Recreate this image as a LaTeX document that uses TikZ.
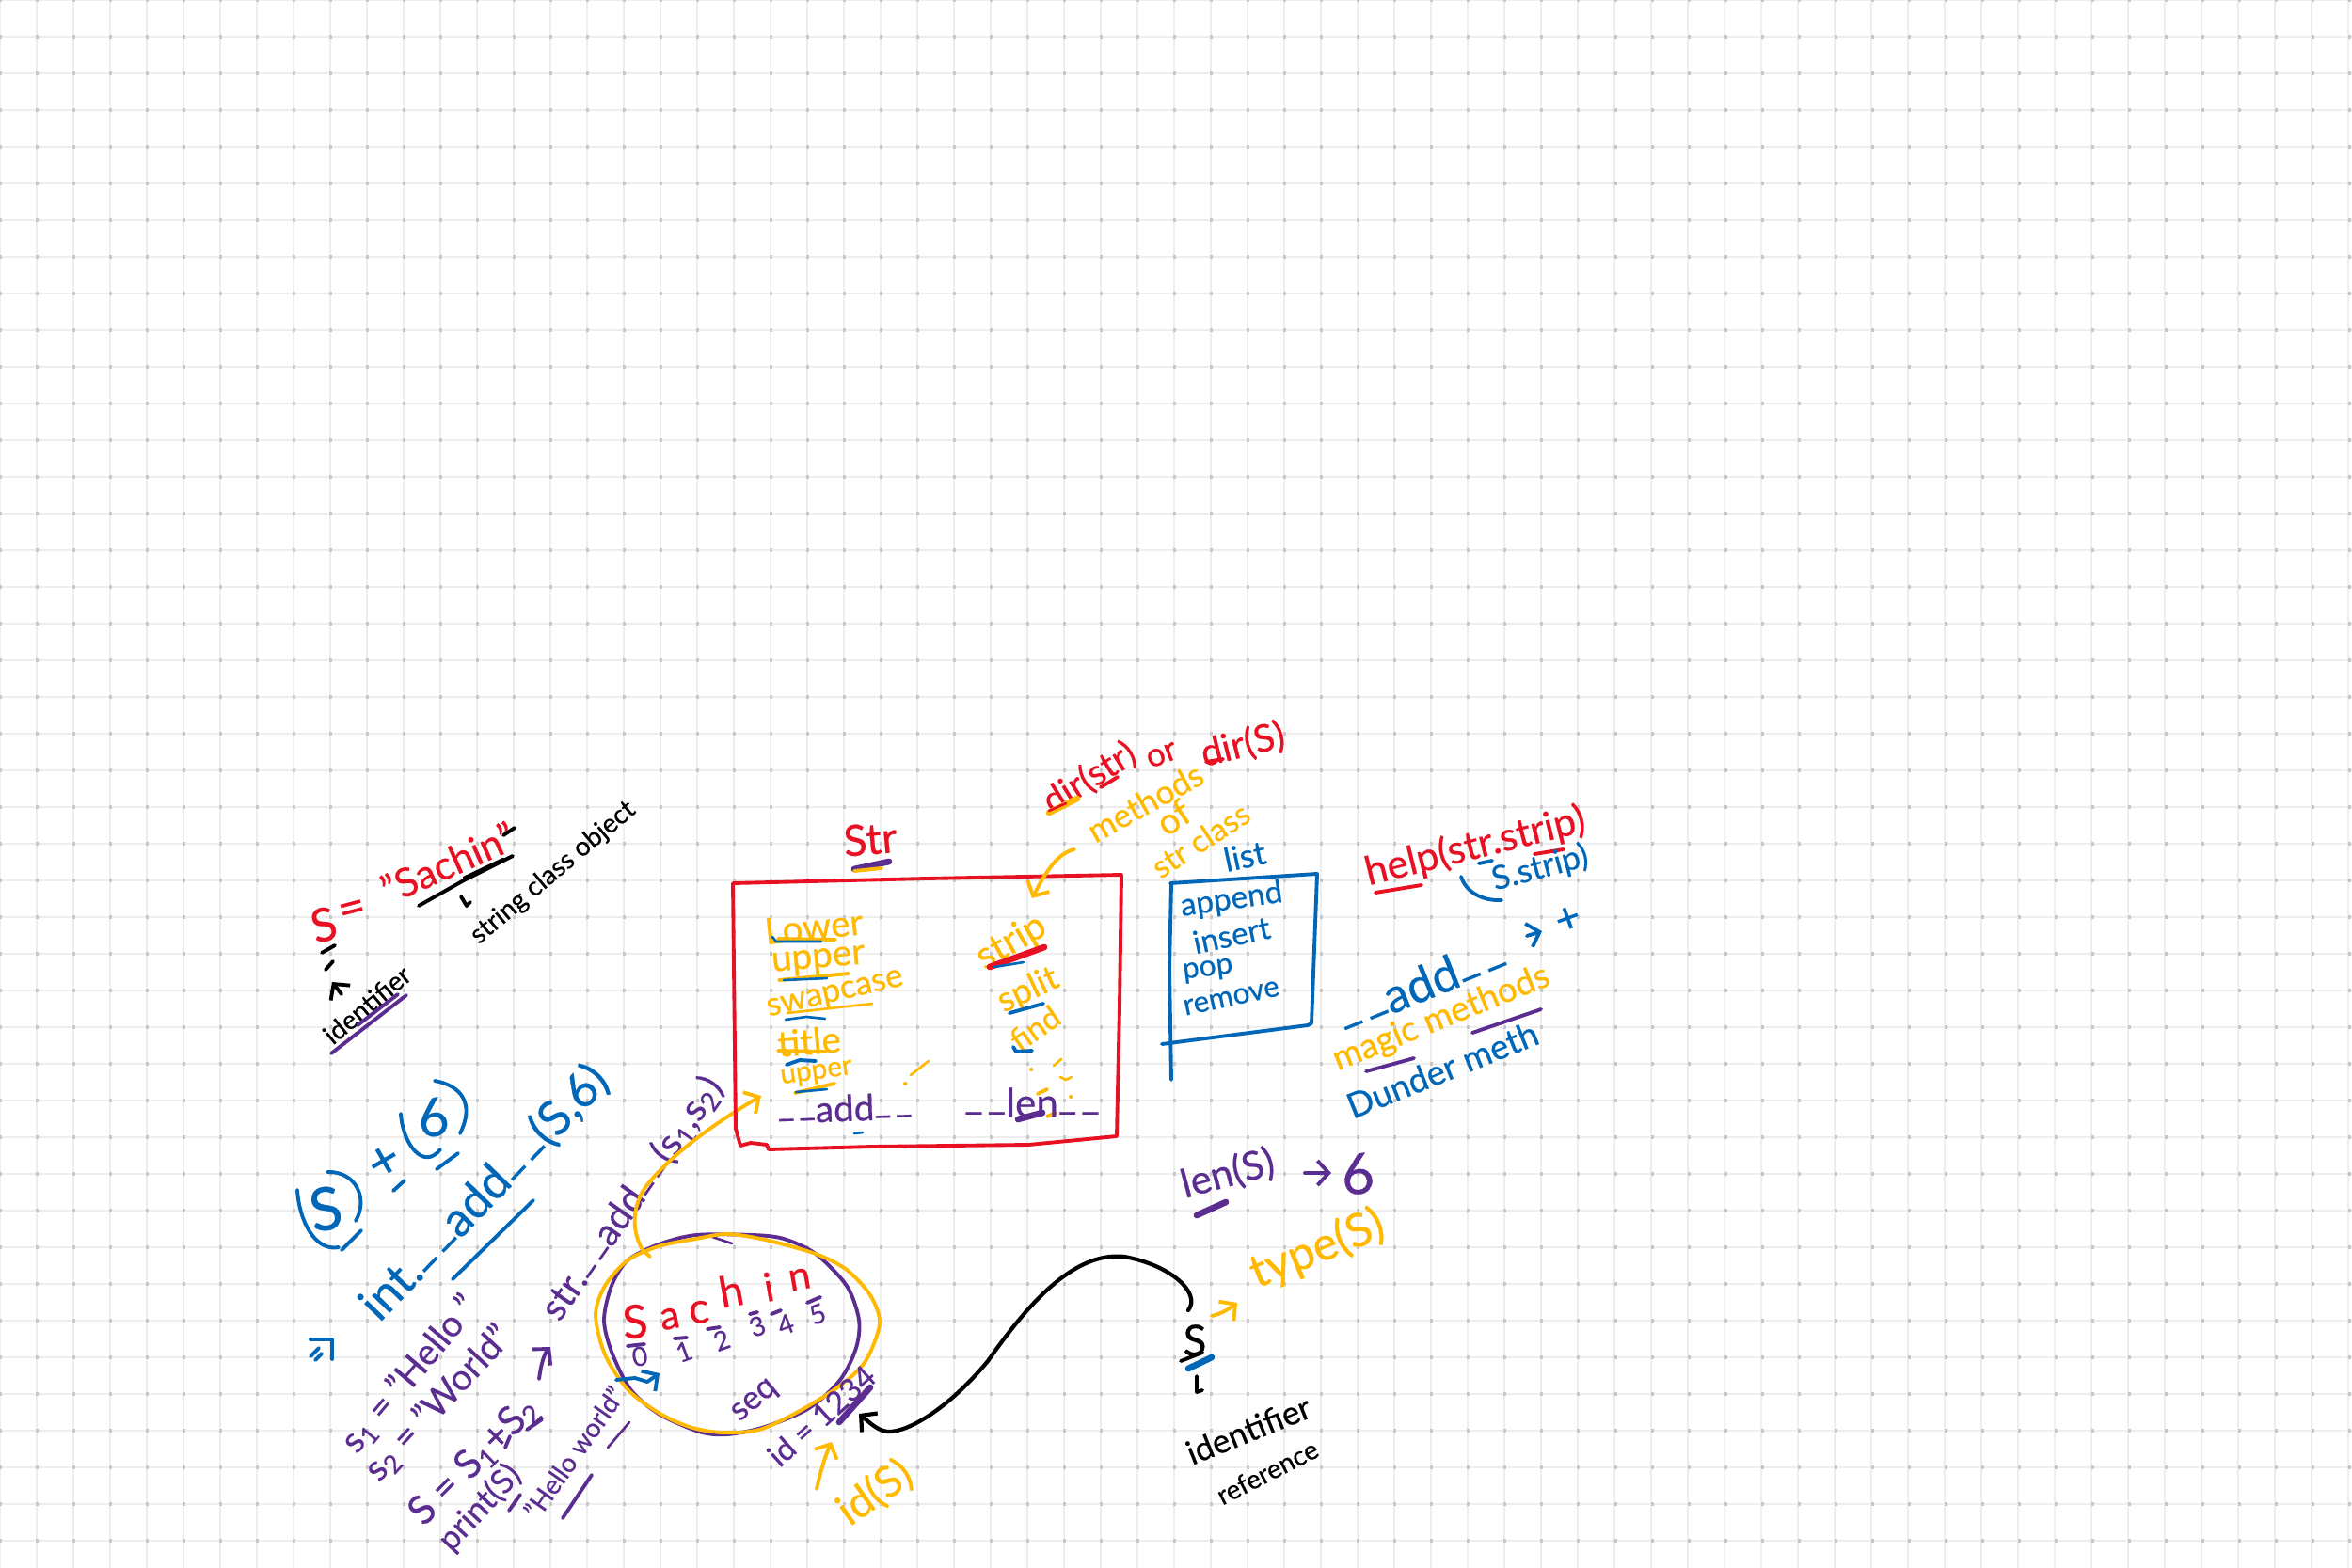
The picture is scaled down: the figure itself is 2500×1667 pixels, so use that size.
\documentclass[tikz,border=0pt]{standalone}
\usepackage{fontspec}
\setmainfont{Lato}[FakeBold=0.5]
\usepackage{xcolor}
\usetikzlibrary{arrows.meta}
\definecolor{inkred}{HTML}{E81123}
\definecolor{inkpurple}{HTML}{5C2D91}
\definecolor{inkblue}{HTML}{0067B8}
\definecolor{inkyellow}{HTML}{FFB900}
\definecolor{gridline}{HTML}{EEEEEE}
\definecolor{griddot}{HTML}{C8C8C8}
\newcommand{\dund}{\raisebox{0.4ex}{\_\kern0.12em\_}}
\tikzset{
	txt/.style={inner sep=0pt,font=\fontsize{#1}{#1}\selectfont},
	pen/.style={line width=1.1pt,line cap=round,line join=round},
	fatpen/.style={line width=1.9pt,line cap=round,line join=round},
	thinpen/.style={line width=0.75pt,line cap=round,line join=round},
	barb/.style={-{Straight Barb[length=1.2mm,width=2.6mm]}},
}

\begin{document}
\begin{tikzpicture}[x=0.01cm,y=-0.01cm]
	\useasboundingbox (0,0) rectangle (2500,1667);
	\fill[white] (0,0) rectangle (2500,1667);
	
	% Griglia
	\foreach \i in {0,...,64}
		\draw[gridline,line width=0.6pt] ({39*\i},0) -- ({39*\i},1667);
	\foreach \j in {0,...,42}
		\draw[gridline,line width=0.6pt] (0,{39*\j}) -- (2500,{39*\j});
	\foreach \j in {0,...,42}
		\draw[griddot,line width=0.9pt,dash pattern=on 0.03cm off 0.36cm,dash phase=0.015cm] (0,{39*\j}) -- (2500,{39*\j});
	
	% Assegnazione in alto a sinistra
	\node[txt=14,text=inkred,rotate=15] (sname) at (344,983) {S};
	\node[txt=14,text=inkred,rotate=15] (eqsign) at (375,970) {=};
	\node[txt=12,text=inkred,rotate=24] (sachin) at (476,917) {"Sachin"};
	\draw[pen] (445,963) -- (493,936) -- (545,910);
	\draw[thinpen] (493,933) -- (535,913);
	\draw[pen] (535,888) -- (547,880);
	\draw[pen] (490,953) -- (496,963) -- (500,959);
	\node[txt=8,rotate=40] (strobject) at (588,928) {string class object};
	\draw[pen] (342,1013) -- (356,1005);
	\draw[pen] (346,1031) -- (354,1022);
	\coordinate (idstart) at (363,1057);
	\coordinate (idend) at (353,1044);
	\draw[pen,barb] (idstart) -- (idend);
	\node[txt=8,rotate=40] (identleft) at (390,1068) {identifier};
	\draw[inkpurple,pen] (352,1120) -- (432,1058);
	\draw[inkpurple,pen] (380,1090) -- (423,1057);
	
	% Somma di interi
	\node[txt=18,text=inkblue,rotate=10] (five) at (346,1285) {S};
	\draw[inkblue,pen] (316,1265) .. controls (318,1298) and (335,1331) .. (360,1326);
	\draw[inkblue,pen] (348,1246) .. controls (378,1245) and (392,1274) .. (378,1298);
	\draw[inkblue,pen] (363,1329) -- (384,1308);
	\node[txt=16,text=inkblue,rotate=30] (plus) at (409,1236) {+};
	\draw[inkblue,pen] (418,1266) -- (430,1255);
	\node[txt=16,text=inkblue,rotate=10] (six) at (460,1188) {6};
	\draw[inkblue,pen] (426,1184) .. controls (428,1216) and (450,1245) .. (468,1222);
	\draw[inkblue,pen] (462,1149) .. controls (490,1154) and (505,1173) .. (489,1205);
	\draw[inkblue,pen] (464,1243) -- (487,1226);
	\node[txt=14.5,text=inkblue,rotate=46] (intadd) at (515,1268) {int.\dund add\dund(S,6)};
	\draw[inkblue,pen] (481,1360) -- (567,1276);
	\draw[inkblue,pen] (330,1442) -- (339,1433);
	\draw[inkblue,pen] (335,1446) -- (342,1439);
	\draw[inkblue,pen] (330,1424) -- (353,1424) -- (353,1445);
	
	% Concatenazione
	\node[txt=11,text=inkpurple,rotate=50] (sone) at (436,1461) {s\textsubscript{1} = "Hello "};
	\node[txt=11,text=inkpurple,rotate=47] (stwo) at (466,1492) {s\textsubscript{2} = "World"};
	\node[txt=12,text=inkpurple,rotate=45] (ssum) at (504,1553) {S = S\textsubscript{1}+S\textsubscript{2}};
	\node[txt=10,text=inkpurple,rotate=47] (printS) at (510,1603) {print(S)};
	\node[txt=8,text=inkpurple,rotate=55] (hello) at (610,1544) {"Hello world"};
	\draw[inkpurple,pen] (537,1539) -- (542,1527);
	\draw[inkpurple,pen] (560,1520) -- (576,1509);
	\draw[inkpurple,pen] (541,1606) -- (553,1589);
	\draw[inkpurple,pen] (598,1614) -- (629,1568);
	\draw[inkpurple,thinpen] (646,1539) -- (669,1512);
	\coordinate (sumarrowa) at (573,1466);
	\coordinate (sumarrowb) at (585,1432);
	\draw[inkpurple,pen,barb] (sumarrowa) .. controls (575,1451) and (578,1440) .. (sumarrowb);
	\node[txt=11.5,text=inkpurple,rotate=55] (stradd) at (672,1274) {str.\dund add\dund(s\textsubscript{1},s\textsubscript{2})};
	
	% Oggetto stringa
	\draw[inkpurple,pen] plot[smooth cycle] coordinates {(642,1403) (650,1437) (670,1477) (700,1503) (743,1522) (773,1525) (813,1517) (860,1497) (893,1467) (910,1433) (913,1403) (900,1367) (867,1333) (833,1317) (800,1313) (740,1313) (700,1323) (667,1340) (650,1367)};
	\draw[inkpurple,thinpen] (757,1315) -- (778,1322);
	\draw[inkyellow,pen] plot[smooth cycle] coordinates {(633,1398) (643,1440) (667,1477) (700,1502) (733,1517) (767,1523) (807,1520) (850,1500) (893,1473) (920,1447) (935,1407) (925,1377) (900,1350) (867,1333) (813,1318) (773,1312) (740,1317) (700,1325) (667,1340) (643,1367)};
	\node[txt=14,text=inkred,rotate=5] (chs) at (675,1405) {S};
	\node[txt=12,text=inkred,rotate=10] (cha) at (712,1402) {a};
	\node[txt=13,text=inkred,rotate=5] (chc) at (743,1395) {c};
	\node[txt=13,text=inkred,rotate=10] (chh) at (777,1372) {h};
	\node[txt=12,text=inkred,rotate=10] (chi) at (817,1368) {i};
	\node[txt=12,text=inkred,rotate=10] (chn) at (850,1360) {n};
	\node[txt=8,text=inkpurple,rotate=10] (idxzero) at (680,1442) {0};
	\node[txt=8,text=inkpurple,rotate=20] (idxone) at (727,1437) {1};
	\node[txt=8,text=inkpurple,rotate=20] (idxtwo) at (767,1425) {2};
	\node[txt=8,text=inkpurple,rotate=20] (idxthree) at (805,1410) {3};
	\node[txt=8,text=inkpurple,rotate=20] (idxfour) at (835,1408) {4};
	\node[txt=8,text=inkpurple,rotate=20] (idxfive) at (869,1397) {5};
	\draw[inkpurple,pen] (667,1431) -- (685,1429);
	\draw[inkpurple,pen] (717,1423) -- (730,1422);
	\draw[inkpurple,pen] (752,1413) -- (765,1411);
	\draw[inkpurple,pen] (797,1397) -- (805,1395);
	\draw[inkpurple,pen] (820,1397) -- (830,1393);
	\draw[inkpurple,pen] (858,1385) -- (872,1379);
	\node[txt=10,text=inkpurple,rotate=40] (seqlabel) at (803,1490) {seq};
	\coordinate (bluea) at (655,1467);
	\coordinate (blueb) at (701,1460);
	\draw[inkblue,pen,barb] (bluea) -- (675,1465) -- (688,1469) -- (blueb);
	\node[txt=9.5,text=inkpurple,rotate=42] (idvalue) at (873,1505) {id = 1234};
	\draw[inkpurple,fatpen] (892,1512) -- (925,1475);
	\node[txt=13,text=inkyellow,rotate=35] (idcall) at (930,1587) {id(S)};
	\coordinate (idarrow) at (868,1583);
	\draw[inkyellow,pen,barb] (idarrow) .. controls (872,1565) and (877,1548) .. (884,1533);
	\coordinate (circleout) at (691,1336);
	\coordinate (boxin) at (809,1165);
	\draw[inkyellow,pen,barb] (circleout) -- (683,1329) .. controls (668,1303) and (675,1274) .. (690,1257) .. controls (720,1221) and (770,1188) .. (boxin);
	
	% Classe str
	\node[txt=13,text=inkred,rotate=5] (strtitle) at (925,892) {Str};
	\draw[inkpurple,fatpen] (908,924) -- (945,916);
	\draw[inkyellow,pen] (908,926) -- (937,923);
	\draw[inkred,pen] (779,939) -- (985,934) -- (1192,930) -- (1190,1070) -- (1187,1208) -- (1093,1217) -- (927,1219) -- (817,1222) -- (815,1217) -- (798,1215) -- (787,1218) -- (782,1200) -- cycle;
	\node[txt=11,text=inkyellow,rotate=6] (lowerm) at (865,985) {Lower};
	\node[txt=11,text=inkyellow,rotate=5] (upperm) at (870,1022) {upper};
	\node[txt=10,text=inkyellow,rotate=13] (swapm) at (888,1058) {swapcase};
	\node[txt=11,text=inkyellow,rotate=5] (titlem) at (860,1107) {title};
	\node[txt=8.5,text=inkyellow,rotate=8] (upperbis) at (868,1142) {upper};
	\draw[inkyellow,pen] (827,998) -- (888,999);
	\draw[inkblue,thinpen] (821,996) -- (825,1001) -- (873,1001);
	\draw[inkyellow,pen] (828,1042) -- (902,1035);
	\draw[inkblue,thinpen] (833,1042) -- (879,1040);
	\draw[inkyellow,thinpen] (837,1077) -- (927,1067);
	\draw[inkblue,thinpen] (835,1084) -- (857,1081) -- (877,1083);
	\draw[inkyellow,pen] (827,1117) -- (878,1118);
	\draw[inkblue,pen] (836,1132) -- (850,1127) -- (867,1128);
	\draw[inkyellow,pen] (845,1162) -- (887,1152);
	\draw[inkblue,thinpen] (846,1161) -- (879,1158);
	\draw[inkyellow,pen] (962,1152) -- (962.5,1152);
	\draw[inkyellow,thinpen] (968,1143) -- (987,1128);
	\node[txt=11,text=inkpurple,rotate=2] (addm) at (898,1178) {\dund add\dund};
	\draw[inkblue,thinpen] (908,1205) -- (917,1204);
	\node[txt=11.5,text=inkyellow,rotate=30] (stripm) at (1075,1002) {strip};
	\draw[inkred,fatpen] (1052,1028) -- (1110,1007);
	\draw[inkblue,thinpen] (1057,1028) -- (1088,1023);
	\node[txt=10.5,text=inkyellow,rotate=25] (splitm) at (1093,1053) {split};
	\draw[inkblue,pen] (1073,1077) -- (1109,1067);
	\node[txt=9.5,text=inkyellow,rotate=35] (findm) at (1100,1093) {find};
	\draw[inkblue,pen] (1077,1113) -- (1080,1118) -- (1097,1117);
	\draw[inkyellow,pen] (1096,1137) -- (1096.5,1137);
	\draw[inkyellow,thinpen] (1120,1133) -- (1128,1126);
	\draw[inkyellow,thinpen] (1127,1145) -- (1133,1148) -- (1139,1145);
	\draw[inkyellow,pen] (1138,1166) -- (1138.5,1166);
	\draw[inkyellow,pen] (1103,1163) -- (1113,1158);
	\draw[inkyellow,pen] (1113,1187) -- (1122,1183);
	\node[txt=12,text=inkpurple] (lenm) at (1097,1172) {\dund len\dund};
	\draw[inkpurple,fatpen] (1082,1190) -- (1108,1183);
	
	% Metodi della classe
	\node[txt=11,text=inkred,rotate=32] (dirstr) at (1158,827) {dir(str)};
	\draw[inkyellow,fatpen] (1115,864) -- (1145,849);
	\draw[inkred,thinpen] (1115,862) -- (1133,854);
	\draw[inkred,pen] (1170,837) -- (1188,826);
	\node[txt=10,text=inkred,rotate=21] (orword) at (1235,803) {or};
	\node[txt=11.5,text=inkred,rotate=14] (dirs) at (1321,792) {dir(S)};
	\draw[inkred,pen] (1282,810) -- (1300,807);
	\node[txt=10,text=inkyellow,rotate=29] (methods) at (1217,853) {methods};
	\node[txt=11,text=inkyellow,rotate=34] (ofword) at (1247,869) {of};
	\node[txt=9.5,text=inkyellow,rotate=33] (strclass) at (1276,893) {str class};
	\coordinate (methodsa) at (1142,903);
	\coordinate (methodsb) at (1097,955);
	\draw[inkyellow,pen,barb] (methodsa) .. controls (1123,907) and (1110,930) .. (methodsb);
	
	% Lista
	\node[txt=10,text=inkblue,rotate=12] (listtitle) at (1323,910) {list};
	\draw[inkblue,pen] (1244,939) -- (1400,929) -- (1394,1088) -- (1390,1090) -- (1235,1110);
	\draw[inkblue,pen] (1245,940) -- (1243,1030) -- (1245,1148);
	\node[txt=9.5,text=inkblue,rotate=8] (appendm) at (1309,957) {append};
	\node[txt=9.5,text=inkblue,rotate=12] (insertm) at (1309,994) {insert};
	\node[txt=9,text=inkblue,rotate=7] (popm) at (1284,1032) {pop};
	\node[txt=9,text=inkblue,rotate=12] (removem) at (1309,1061) {remove};
	
	% Note a destra
	\node[txt=12,text=inkred,rotate=14] (helpstr) at (1568,900) {help(str.strip)};
	\draw[inkred,pen] (1462,949) -- (1511,941);
	\draw[inkred,pen] (1631,908) -- (1662,903);
	\draw[inkblue,pen] (1572,918) -- (1586,915);
	\draw[inkblue,pen] (1553,932) .. controls (1558,948) and (1575,958) .. (1596,957);
	\node[txt=10,text=inkblue,rotate=15] (sstrip) at (1637,923) {S.strip)};
	\node[txt=14.5,text=inkblue,rotate=22] (addplus) at (1510,1046) {\dund add\dund};
	\coordinate (plusa) at (1623,995);
	\coordinate (plusb) at (1639,990);
	\draw[inkblue,pen,barb] (plusa) -- (plusb);
	\node[txt=13,text=inkblue,rotate=20] (plusmark) at (1667,978) {+};
	\node[txt=10.5,text=inkyellow,rotate=22] (magic) at (1532,1083) {magic methods};
	\draw[inkpurple,pen] (1452,1139) -- (1503,1125);
	\draw[inkpurple,pen] (1565,1098) -- (1638,1073);
	\node[txt=10.5,text=inkblue,rotate=22] (dunder) at (1533,1137) {Dunder meth};
	
	% Funzioni e riferimento
	\node[txt=12,text=inkpurple,rotate=15] (lencall) at (1305,1248) {len(S)};
	\draw[inkpurple,fatpen] (1272,1292) -- (1303,1278);
	\coordinate (lena) at (1387,1247);
	\coordinate (lenb) at (1415,1247);
	\draw[inkpurple,pen,barb] (lena) -- (lenb);
	\node[txt=17,text=inkpurple,rotate=5] (lenresult) at (1443,1248) {6};
	\node[txt=14,text=inkyellow,rotate=22] (typecall) at (1400,1328) {type(S)};
	\coordinate (typea) at (1288,1399);
	\coordinate (typeb) at (1315,1385);
	\draw[inkyellow,pen,barb] (typea) .. controls (1297,1397) and (1306,1392) .. (typeb);
	\node[txt=13] (sref) at (1270,1425) {S};
	\draw[pen] (1255,1447) -- (1278,1438);
	\draw[inkblue,fatpen] (1263,1455) -- (1288,1443);
	\draw[pen] (1272,1463) -- (1272,1480) -- (1278,1478);
	\node[txt=10,rotate=22] (identright) at (1327,1520) {identifier};
	\node[txt=8,rotate=27] (reference) at (1347,1565) {reference};
	\coordinate (refa) at (1263,1393);
	\coordinate (refb) at (913,1503);
	\draw[line width=1.2pt,line cap=round,barb] (refa) .. controls (1277,1375) and (1245,1345) .. (1195,1336) .. controls (1140,1330) and (1090,1390) .. (1050,1447) .. controls (1010,1495) and (970,1520) .. (947,1522) .. controls (935,1523) and (925,1513) .. (refb);
\end{tikzpicture}
\end{document}
